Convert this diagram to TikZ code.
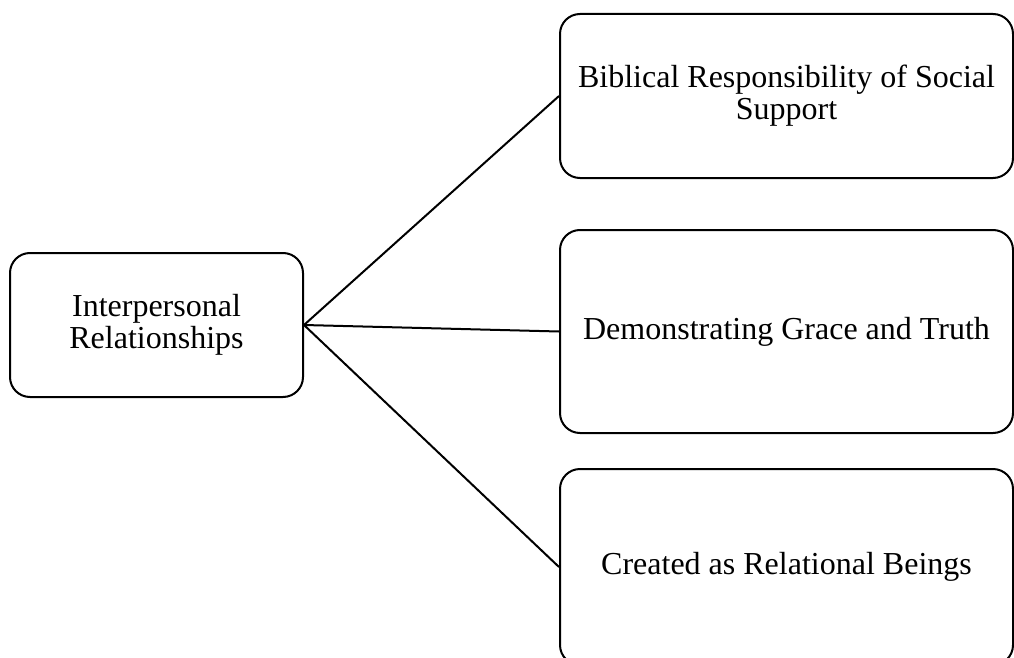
\documentclass[tikz,border=0pt]{standalone}
\usepackage{fontspec}
\setmainfont{Liberation Serif}
\begin{document}
\begin{tikzpicture}[x=1pt,y=-1pt,
  box/.style={draw, line width=2pt, rounded corners=20pt, align=center,
    inner sep=0pt, font=\fontsize{32}{32}\selectfont},
  link/.style={line width=2pt}]
\useasboundingbox (0,0) rectangle (1014,658);
\clip (0,0) rectangle (1014,658);

% root topic
\node[box, minimum width=293pt, minimum height=144pt] (root) at (156.5,325)
  {Interpersonal\\Relationships};

% three branches
\node[box, minimum width=453pt, minimum height=164pt] (bib) at (786.5,96)
  {Biblical Responsibility of Social\\Support};
\node[box, minimum width=453pt, minimum height=203pt] (grace) at (786.5,331.5)
  {Demonstrating Grace and Truth};
\node[box, minimum width=453pt, minimum height=196pt] (made) at (786.5,567)
  {Created as Relational Beings};

% connectors
\draw[link] (root.east) -- (bib.west);
\draw[link] (root.east) -- (grace.west);
\draw[link] (root.east) -- (made.west);
\end{tikzpicture}
\end{document}
